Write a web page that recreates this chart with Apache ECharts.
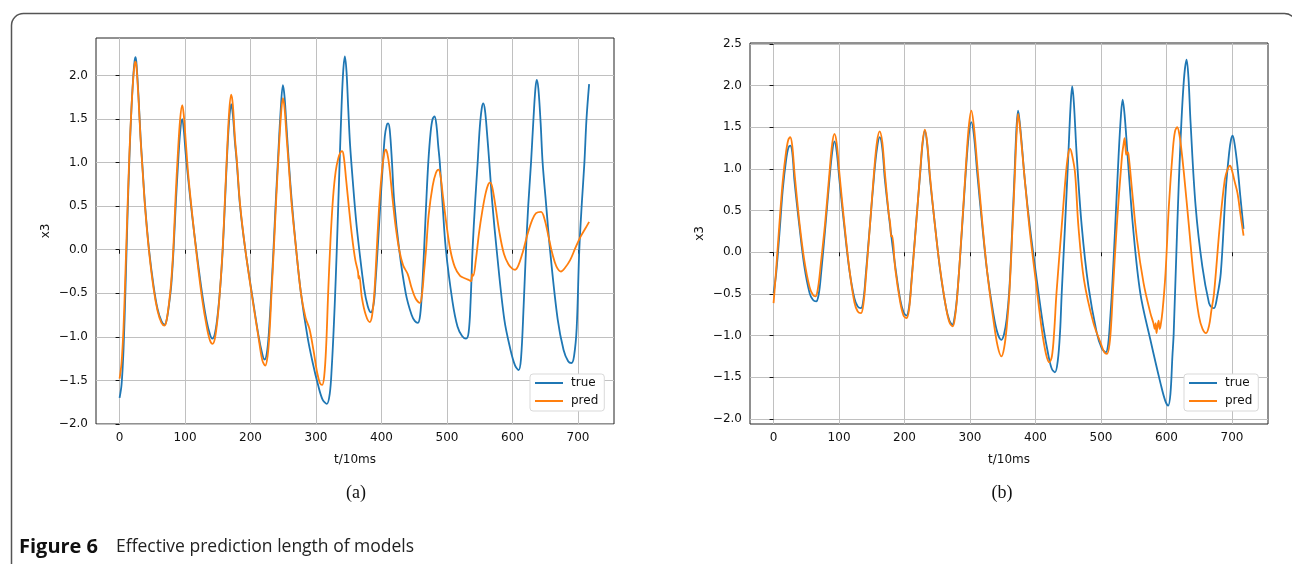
<!DOCTYPE html>
<html lang="en">
<head>
<meta charset="UTF-8">
<title>Figure 6</title>
<style>
  * { margin: 0; padding: 0; }
  body { background: #fff; }
  #main { width: 1292px; height: 564px; }
</style>
</head>
<body>
<div id="main"></div>
<script src="https://cdn.jsdelivr.net/npm/echarts@6/dist/echarts.min.js"></script>
<script>
// tick values
var xTicks = [0, 100, 200, 300, 400, 500, 600, 700];
var yTicksA = [-2, -1.5, -1, -0.5, 0, 0.5, 1, 1.5, 2];
var yTicksB = [-2, -1.5, -1, -0.5, 0, 0.5, 1, 1.5, 2, 2.5];

// (a) true  [t, x3]
var aTrue = [[0,-1.70],[3,-1.55],[6,-1.15],[9,-0.45],[12,0.35],[15,1.05],[18,1.6],[21,2.0],[23,2.17],[24.5,2.21],[26,2.12],[29,1.75],[32,1.3],[35,0.95],[39,0.5],[45,0],[52,-0.42],[58,-0.68],[64,-0.82],[68.7,-0.86],[72,-0.8],[76,-0.6],[79,-0.4],[82.4,0],[86,0.55],[89,0.95],[92.5,1.35],[95.7,1.5],[98,1.38],[101,1.1],[105,0.8],[111,0.38],[118,-0.05],[126,-0.5],[133,-0.82],[138,-0.97],[141.5,-1.02],[145,-0.98],[149,-0.8],[153.5,-0.45],[157.5,0.0],[161,0.55],[164,1.05],[167.5,1.5],[170.5,1.67],[173,1.55],[176,1.25],[179,1.0],[184,0.5],[192,0.0],[202,-0.5],[212,-0.98],[218,-1.2],[221.4,-1.26],[225,-1.18],[228,-0.95],[231.5,-0.5],[235,0.0],[238.5,0.55],[242,1.05],[246,1.6],[249.4,1.89],[252,1.75],[255,1.4],[258.5,1.0],[263,0.55],[269.7,0.0],[277,-0.5],[287,-1.0],[295,-1.3],[303,-1.55],[310,-1.72],[316.5,-1.77],[321,-1.65],[324,-1.35],[327,-0.9],[330,-0.35],[333,0.3],[336,1.0],[339,1.65],[341.5,2.05],[344,2.22],[346.5,2.05],[349,1.65],[352,1.2],[356,0.8],[361,0.35],[366,0.0],[373.5,-0.45],[379,-0.65],[383.7,-0.72],[388,-0.62],[391,-0.35],[394,0.0],[398,0.5],[401.5,0.92],[405,1.3],[408,1.43],[410,1.45],[412.5,1.38],[416,1.0],[419.4,0.55],[427,0.0],[437,-0.5],[446,-0.75],[451,-0.82],[455.5,-0.84],[459,-0.75],[462,-0.45],[465,0.0],[468,0.5],[471.4,1.0],[475,1.35],[478,1.5],[481,1.53],[484,1.42],[486.5,1.2],[489,1.0],[493,0.55],[498.3,0.0],[508.5,-0.6],[516,-0.88],[523,-0.99],[529,-1.02],[533,-0.95],[536,-0.6],[539,0.0],[543,0.55],[546.8,1.0],[550,1.4],[553,1.62],[555.4,1.68],[558,1.6],[561,1.35],[564.6,1.0],[569,0.55],[575.8,0.0],[587.5,-0.8],[597,-1.15],[604,-1.33],[609.4,-1.38],[613,-1.25],[617,-0.65],[620.6,0.0],[624,0.5],[628.3,1.0],[632,1.5],[635,1.85],[637,1.95],[639.5,1.85],[643,1.45],[646,1.0],[651,0.55],[657.3,0.0],[669,-0.8],[678,-1.15],[685,-1.28],[690,-1.30],[694,-1.22],[698,-0.9],[702,0.0],[706,0.55],[709.8,1.0],[713,1.5],[717,1.90]];

// (a) pred
var aPred = [[0,-1.48],[3,-1.3],[6,-0.9],[9,-0.25],[12,0.45],[15,1.1],[18,1.6],[21,1.98],[23,2.13],[24.5,2.16],[26,2.08],[29,1.72],[32,1.28],[35,0.93],[39,0.48],[45,-0.02],[52,-0.45],[58,-0.7],[64,-0.84],[68.7,-0.87],[72,-0.8],[76,-0.58],[79,-0.35],[82,0.0],[85.5,0.6],[89,1.1],[92.5,1.5],[95.7,1.66],[98,1.55],[101,1.25],[105,0.85],[111,0.4],[118,-0.08],[126,-0.56],[133,-0.88],[138,-1.04],[142,-1.08],[145.5,-1.02],[149.5,-0.8],[153.5,-0.45],[157.5,0.02],[161,0.6],[164,1.1],[167.5,1.6],[170.5,1.78],[173,1.66],[176,1.3],[179,1.03],[184,0.52],[192,0.0],[202,-0.52],[212,-1.0],[218,-1.27],[222.5,-1.33],[226,-1.22],[229,-0.95],[232,-0.5],[235.5,0.0],[239,0.55],[242.5,1.05],[246.5,1.55],[249.5,1.74],[252,1.62],[255,1.3],[258.5,0.95],[263,0.5],[269.7,0.0],[277,-0.5],[284,-0.78],[290,-0.91],[296,-1.15],[302,-1.42],[306,-1.53],[309.4,-1.55],[312.5,-1.45],[315.5,-1.1],[318.5,-0.5],[322,0.1],[326,0.6],[330,0.9],[334,1.05],[337.5,1.12],[340,1.13],[342.5,1.06],[346,0.8],[350,0.5],[355,0.15],[360,-0.12],[364,-0.25],[365,-0.33],[366,-0.3],[370,-0.55],[376,-0.75],[382,-0.83],[385.5,-0.76],[389,-0.5],[392,-0.1],[396,0.45],[400,0.85],[404,1.1],[406.6,1.15],[409,1.1],[412,0.95],[416,0.65],[421,0.3],[427,0.0],[433,-0.18],[440,-0.28],[446,-0.44],[452,-0.56],[458.6,-0.61],[462,-0.5],[465,-0.25],[468,0.0],[472,0.4],[478,0.73],[483,0.88],[487,0.92],[490,0.85],[494,0.6],[499,0.3],[505,0.0],[512,-0.2],[520,-0.3],[528,-0.33],[534,-0.35],[537,-0.36],[538.5,-0.28],[540,-0.3],[544,-0.12],[549,0.2],[554,0.45],[559,0.65],[563,0.75],[566,0.77],[569,0.72],[574,0.5],[580,0.2],[587,-0.05],[594,-0.17],[600,-0.22],[604,-0.23],[609,-0.18],[616,-0.02],[623,0.18],[630,0.34],[636,0.42],[643.6,0.435],[649,0.35],[655,0.15],[661,-0.05],[667,-0.19],[674,-0.25],[680,-0.21],[688,-0.12],[696,0.02],[704,0.15],[711,0.24],[717,0.32]];

// (b) true
var bTrue = [[0,-0.49],[4,-0.25],[9,0.23],[14,0.75],[19,1.1],[22.5,1.25],[25.4,1.28],[28.5,1.2],[32,0.85],[39.6,0.3],[47,-0.17],[55,-0.49],[60,-0.57],[65,-0.59],[69,-0.5],[72.6,-0.25],[78.7,0.27],[85.3,0.87],[89.5,1.2],[93,1.33],[96.5,1.2],[100.5,0.87],[108,0.31],[115.7,-0.21],[123.4,-0.55],[128.5,-0.65],[133.5,-0.67],[137.5,-0.55],[141,-0.25],[147,0.31],[153.8,0.95],[158,1.25],[162,1.38],[166,1.25],[170,0.87],[178,0.31],[185.8,-0.17],[193.4,-0.57],[198.5,-0.72],[203,-0.76],[207,-0.65],[210.7,-0.33],[217.3,0.31],[223.9,0.95],[227.5,1.3],[231,1.46],[234.5,1.3],[239,0.87],[246.7,0.31],[254.3,-0.21],[263,-0.65],[268.5,-0.82],[273,-0.87],[277,-0.75],[280.7,-0.49],[287.3,0.23],[293.4,0.95],[298,1.4],[302,1.56],[306,1.4],[311,0.95],[318.8,0.31],[326.4,-0.25],[335.5,-0.73],[342,-0.97],[348,-1.05],[352,-0.98],[356,-0.8],[360,-0.45],[364,0.2],[368,0.95],[371,1.5],[373.4,1.70],[376,1.55],[379.5,1.25],[383.6,0.87],[391.3,0.31],[400.5,-0.25],[411.8,-0.89],[420,-1.25],[425,-1.4],[429.7,-1.44],[434,-1.3],[437.5,-0.95],[440,-0.49],[445,0.31],[450,1.15],[453.5,1.75],[456,1.99],[458.5,1.8],[463,1.15],[470.6,0.31],[480.8,-0.41],[493.6,-0.97],[501,-1.15],[507.4,-1.20],[511,-1.1],[514,-0.8],[516.6,-0.49],[521.7,0.31],[526.8,1.15],[530.5,1.65],[533,1.83],[536,1.65],[540.7,1.15],[548.8,0.31],[560,-0.49],[575.4,-1.05],[590.8,-1.57],[598,-1.78],[602.6,-1.84],[606,-1.7],[609,-1.25],[611,-0.97],[616.4,0.31],[621.5,1.35],[626.6,2.07],[630.7,2.31],[633.5,2.1],[636.8,1.55],[644.5,0.55],[654.7,-0.17],[664.9,-0.61],[669,-0.66],[672.6,-0.67],[677,-0.55],[682.9,-0.25],[690.5,0.75],[695.6,1.19],[698.5,1.35],[701,1.40],[704,1.3],[708.4,1.03],[713,0.65],[717.7,0.28]];

// (b) pred
var bPred = [[0,-0.61],[4,-0.2],[9,0.35],[14,0.85],[19,1.2],[22.5,1.35],[25.4,1.38],[28.5,1.28],[32,0.95],[39.6,0.35],[47,-0.1],[55,-0.42],[60,-0.51],[64,-0.53],[68,-0.42],[72,-0.15],[78.7,0.35],[85.3,0.95],[89.5,1.3],[93,1.42],[96.5,1.3],[100.5,0.95],[108,0.35],[115.7,-0.2],[123.4,-0.6],[128.5,-0.71],[133.5,-0.73],[137.5,-0.6],[141,-0.3],[147,0.3],[153.8,1.0],[158,1.33],[162,1.45],[166,1.32],[170,0.95],[176,0.45],[178,0.35],[179.5,0.19],[181,0.2],[185.8,-0.2],[193.4,-0.6],[198.5,-0.76],[203,-0.79],[207,-0.68],[210.7,-0.35],[217.3,0.3],[223.9,0.97],[227.5,1.32],[231,1.47],[234.5,1.32],[239,0.9],[246.7,0.3],[254.3,-0.2],[263,-0.65],[268.5,-0.84],[273.5,-0.89],[277,-0.78],[280.7,-0.5],[287.3,0.25],[293.4,1.0],[298,1.5],[302,1.70],[306,1.5],[311,1.05],[318.8,0.35],[326.4,-0.25],[335.5,-0.8],[342,-1.12],[348,-1.25],[352,-1.15],[356,-0.9],[360,-0.5],[364,0.15],[368,0.85],[371,1.4],[373.4,1.66],[376,1.52],[379.5,1.22],[383.6,0.87],[391.3,0.25],[400.5,-0.35],[410,-0.95],[416,-1.22],[421,-1.32],[425,-1.25],[428.5,-0.95],[432,-0.49],[440,0.31],[446.5,0.95],[450,1.18],[452.7,1.24],[455.5,1.18],[460.4,0.95],[465.5,0.31],[474,-0.33],[488.5,-0.85],[500,-1.1],[505,-1.2],[509,-1.22],[513,-1.1],[516,-0.8],[518,-0.49],[524,0.31],[532,1.15],[534.5,1.3],[536,1.37],[537.5,1.25],[538.5,1.17],[540,1.2],[542,1.17],[547.3,0.75],[555,0.15],[565,-0.37],[575.4,-0.73],[580,-0.85],[582,-0.92],[583.5,-0.85],[584.7,-0.97],[586,-0.9],[588,-0.82],[589.5,-0.92],[591,-0.88],[594,-0.7],[598.5,-0.25],[603.6,0.55],[609.7,1.23],[613,1.45],[616.4,1.50],[619.5,1.42],[622.5,1.25],[626.6,0.95],[634.3,0.31],[642,-0.33],[649.6,-0.77],[655,-0.92],[660.4,-0.97],[665,-0.88],[668.5,-0.7],[672.6,-0.49],[681.3,0.31],[689,0.87],[693.5,1.0],[697,1.04],[700,0.98],[704,0.85],[708.4,0.71],[713,0.45],[717.7,0.20]];

var BLUE = '#1f77b4', ORANGE = '#ff7f0e';
var tickFont = 'DejaVu Sans';

function minus(v) { return String(v).replace('-', '\u2212'); }

function xAx(i) {
  return {
    gridIndex: i, type: 'value', min: -36, max: 755,
    axisLine: { show: false },
    axisTick: { show: true, length: 4, customValues: xTicks, lineStyle: { color: '#111' } },
    axisLabel: { customValues: xTicks, color: '#111', fontSize: 12, fontFamily: tickFont, margin: 8 },
    splitLine: { show: true, lineStyle: { color: '#c0c0c0', width: 1 } },
    name: 't/10ms', nameLocation: 'middle', nameGap: 30,
    nameTextStyle: { color: '#111', fontSize: 12, fontFamily: tickFont }
  };
}
function yAx(i, lo, hi, ticks) {
  return {
    gridIndex: i, type: 'value', min: lo, max: hi,
    axisLine: { show: false },
    axisTick: { show: true, length: 4, customValues: ticks, lineStyle: { color: '#111' } },
    axisLabel: { customValues: ticks, color: '#111', fontSize: 12, fontFamily: tickFont, margin: 8,
      formatter: function (v) { return minus(v.toFixed(1)); } },
    splitLine: { show: true, lineStyle: { color: '#c0c0c0', width: 1 } },
    name: 'x3', nameLocation: 'middle', nameGap: 44,
    nameTextStyle: { color: '#111', fontSize: 12, fontFamily: tickFont }
  };
}
function line(name, xi, data, color) {
  return {
    name: name, type: 'line', xAxisIndex: xi, yAxisIndex: xi, data: data,
    showSymbol: false, smooth: 0.35, color: color,
    lineStyle: { color: color, width: 1.8 }
  };
}
function leg(left) {
  return {
    data: ['true', 'pred'], orient: 'vertical', left: left, top: 374,
    icon: 'rect', itemWidth: 28, itemHeight: 2, itemGap: 6,
    padding: [3, 6, 4, 5], backgroundColor: '#fff',
    borderColor: '#d9d9d9', borderWidth: 1, borderRadius: 3,
    textStyle: { color: '#111', fontSize: 12, fontFamily: tickFont, padding: [0, 0, 0, 3] }
  };
}

var chart = echarts.init(document.getElementById('main'));
chart.setOption({
  animation: false,
  backgroundColor: '#fff',
  grid: [
    { left: 96, top: 38, width: 518, height: 386, show: true, borderColor: '#222', borderWidth: 1 },
    { left: 750, top: 43, width: 518, height: 381, show: true, borderColor: '#222', borderWidth: 1 }
  ],
  xAxis: [xAx(0), xAx(1)],
  yAxis: [yAx(0, -2.0, 2.43, yTicksA), yAx(1, -2.06, 2.51, yTicksB)],
  legend: [leg(530), leg(1184)],
  series: [
    line('true', 0, aTrue, BLUE),
    line('pred', 0, aPred, ORANGE),
    line('true', 1, bTrue, BLUE),
    line('pred', 1, bPred, ORANGE)
  ],
  graphic: [
    // figure frame: only top/left edges and the rounded top corners fall inside the picture
    { type: 'rect', left: 9, top: 11, silent: true,
      shape: { width: 1285, height: 600, r: 12 },
      style: { fill: 'none', stroke: '#555', lineWidth: 1.5 } },
    { type: 'text', x: 356, y: 493, style: { text: '(a)', font: '18px "Liberation Serif"', fill: '#111', align: 'center', verticalAlign: 'middle' } },
    { type: 'text', x: 1002, y: 493, style: { text: '(b)', font: '18px "Liberation Serif"', fill: '#111', align: 'center', verticalAlign: 'middle' } },
    { type: 'text', x: 19, y: 547, style: { text: 'Figure 6', font: 'bold 20px "Open Sans"', fill: '#111', verticalAlign: 'middle' } },
    { type: 'text', x: 116, y: 547, style: { text: 'Effective prediction length of models', font: '17.5px "Open Sans"', fill: '#222', verticalAlign: 'middle' } }
  ]
});
</script>
</body>
</html>
